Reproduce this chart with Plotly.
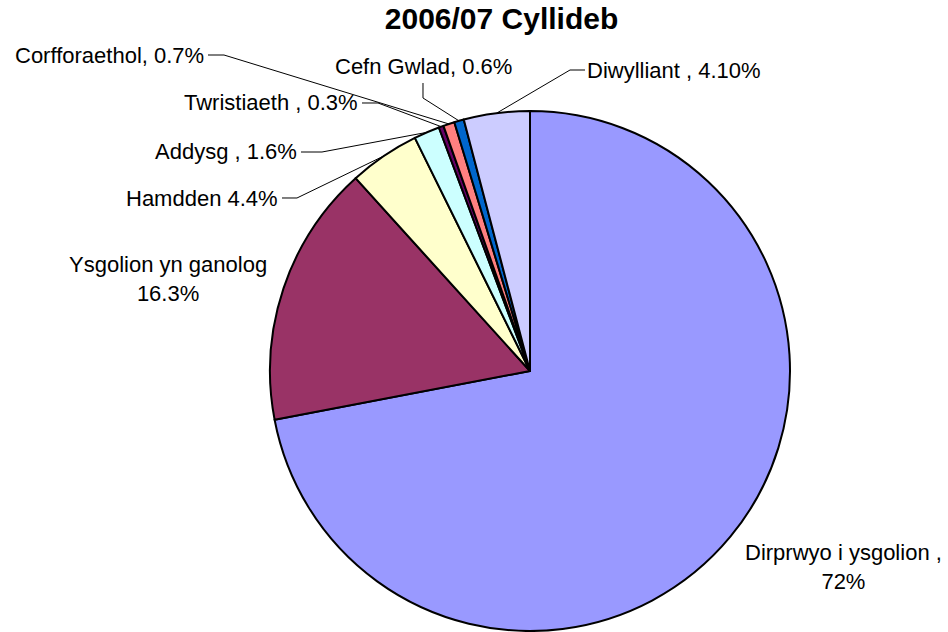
import math
import plotly.graph_objects as go

# ---- data ----
categories = ["Dirprwyo i ysgolion", "Ysgolion yn ganolog", "Hamdden", "Addysg",
              "Twristiaeth", "Corfforaethol", "Cefn Gwlad", "Diwylliant"]
values = [72, 16.3, 4.4, 1.6, 0.3, 0.7, 0.6, 4.1]
label_texts = ["Dirprwyo i ysgolion ,<br>72%", "Ysgolion yn ganolog<br>16.3%",
               "Hamdden 4.4%", "Addysg , 1.6%", "Twristiaeth , 0.3%",
               "Corfforaethol, 0.7%", "Cefn Gwlad, 0.6%", "Diwylliant , 4.10%"]
colors = ["#9999FF", "#993366", "#FFFFCC", "#CCFFFF",
          "#660066", "#FF8080", "#0066CC", "#CCCCFF"]
title_text = "2006/07 Cyllideb"

# ---- layout geometry (pixels) ----
W, H = 948, 632
cx, cy, R = 530, 371, 260
FONT = "Liberation Sans, Arial, sans-serif"

# label placement: (x, y, xanchor, leader elbow points)
label_layout = [
    (843, 567, "center", []),
    (168, 279, "center", []),
    (280, 198, "right", [(282, 198), (297, 198)]),
    (299, 152, "right", [(301, 152), (322, 152)]),
    (360, 103, "right", [(362, 103), (378, 103)]),
    (206, 55, "right", [(208, 55), (224, 55)]),
    (423, 66, "center", [(423, 83), (423, 98)]),
    (585, 70, "left", [(585, 70), (570, 70)]),
]


def px(x):
    return x / W


def py(y):
    return (H - y) / H


fig = go.Figure(go.Pie(
    labels=categories,
    values=values,
    sort=False,
    direction="clockwise",
    rotation=0,
    textinfo="none",
    hoverinfo="label+percent",
    marker=dict(colors=colors, line=dict(color="black", width=2)),
    domain=dict(x=[px(cx - R), px(cx + R)], y=[py(cy + R), py(cy - R)]),
    showlegend=False,
))

total = sum(values)
cum = 0.0
annotations = []
shapes = []
for v, txt, (lx, ly, anchor, elbow) in zip(values, label_texts, label_layout):
    mid = (cum + v / 2) / total * 2 * math.pi
    cum += v
    rx = cx + R * math.sin(mid)
    ry = cy - R * math.cos(mid)
    annotations.append(dict(
        x=px(lx), y=py(ly), xref="paper", yref="paper",
        xanchor=anchor, yanchor="middle", text=txt, showarrow=False,
        font=dict(family=FONT, size=22, color="black"), align="center",
    ))
    if elbow:
        pts = elbow + [(rx, ry)]
        path = "M " + " L ".join(f"{px(x):.5f},{py(y):.5f}" for x, y in pts)
        shapes.append(dict(type="path", path=path, xref="paper", yref="paper",
                           line=dict(color="black", width=1)))

fig.update_layout(
    width=W, height=H,
    margin=dict(l=0, r=0, t=0, b=0),
    paper_bgcolor="white", plot_bgcolor="white",
    title=dict(text=f"<b>{title_text}</b>", x=px(501.5), xanchor="center",
               xref="paper", y=py(18), yanchor="middle", yref="paper",
               font=dict(family=FONT, size=30, color="black")),
    annotations=annotations,
    shapes=shapes,
)

fig.write_html("out.html",
               config={"displayModeBar": False},
               post_script="document.body.style.margin='0';"
                           "document.body.style.overflow='hidden';")
